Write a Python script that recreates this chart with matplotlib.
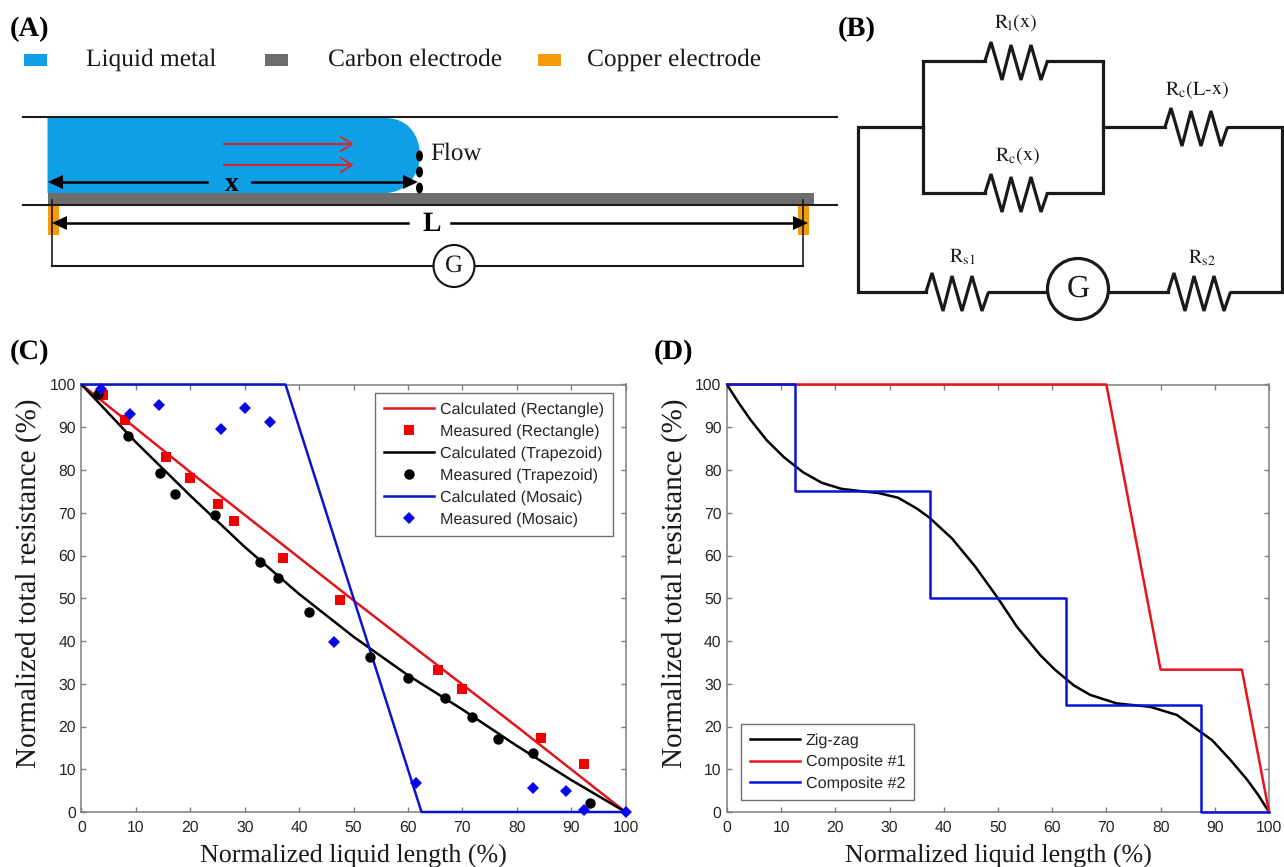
import numpy as np
import matplotlib
matplotlib.use('Agg')
import matplotlib.pyplot as plt
from matplotlib.patches import Rectangle, Circle, Ellipse, PathPatch
from matplotlib.path import Path

plt.rcParams['mathtext.fontset'] = 'stix'
plt.rcParams['text.hinting'] = 'no_hinting'
SERIF = 'Liberation Serif'
SANS = 'Liberation Sans'

# ---- Panel C data
calc_rect_x = [0, 20, 50, 80, 100]
calc_rect_y = [100, 79.5, 49.5, 20, 0]
meas_rect_x = [4, 8, 15.5, 20, 25, 28, 37, 47.5, 65.5, 70, 84.5, 92.3]
meas_rect_y = [97.5, 91.7, 83, 78.2, 72, 68, 59.3, 49.5, 33.3, 28.8, 17.3, 11.2]
calc_trap_x = [0, 10, 20, 30, 40, 50, 60, 70, 80, 90, 100]
calc_trap_y = [100, 86.5, 74, 62, 51, 41, 32, 24, 15.5, 7.5, 0]
meas_trap_x = [3, 8.5, 14.5, 17.2, 24.5, 32.8, 36.2, 41.8, 53, 60, 66.8, 71.8, 76.5, 83, 93.5]
meas_trap_y = [97.8, 88, 79.2, 74.5, 69.5, 58.5, 54.8, 46.8, 36.2, 31.3, 26.7, 22.2, 17, 13.7, 2.2]
calc_mos_x = [0, 37.5, 62.5, 100]
calc_mos_y = [100, 100, 0, 0]
meas_mos_x = [3.5, 8.9, 14.3, 25.6, 30, 34.7, 46.5, 61.5, 83, 89, 92.3, 100]
meas_mos_y = [99, 93, 95.2, 89.7, 94.4, 91.2, 39.7, 6.7, 5.7, 5, 0.5, 0]

# ---- Panel D data
zig_x = [0, 2, 4.3, 7.3, 10.5, 14, 17.5, 21.1, 25, 28, 31.6, 35, 37.3, 41.5, 45.8, 50, 53.5, 57.8,
         60.5, 64, 67, 71.9, 75, 78.1, 83, 87.3, 89.5, 93, 96, 98, 100]
zig_y = [100, 96, 91.8, 87, 83, 79.5, 77, 75.6, 75, 74.6, 73.5, 71, 68.9, 64, 57.4, 50, 43.3, 36.7,
         33.3, 29.6, 27.4, 25.4, 25, 24.6, 22.7, 18.8, 16.8, 12, 7.5, 4, 0]
comp1_x = [0, 70, 80, 95, 100]
comp1_y = [100, 100, 33.3, 33.3, 0]
comp2_x = [0, 12.5, 12.5, 37.5, 37.5, 62.5, 62.5, 87.5, 87.5, 100]
comp2_y = [100, 100, 75, 75, 50, 50, 25, 25, 0, 0]

ticks = list(range(0, 101, 10))
xlabel_text = 'Normalized liquid length (%)'
ylabel_text = 'Normalized total resistance (%)'

W, H = 1284, 867
fig = plt.figure(figsize=(W / 100, H / 100), dpi=100, facecolor='white')

# Pixel-space overlay for schematic panels
ov = fig.add_axes([0, 0, 1, 1], zorder=0)
ov.set_xlim(0, W)
ov.set_ylim(H, 0)
ov.axis('off')


def line(xs, ys, c='#1a1a1a', lw=1.5, **k):
    ov.plot(xs, ys, color=c, lw=lw, solid_capstyle='projecting', solid_joinstyle='miter', **k)


def label(x, y, s, size=17, **k):
    k.setdefault('ha', 'left')
    k.setdefault('va', 'center')
    ov.text(x, y, s, family=SERIF, fontsize=size, color=k.pop('color', '#1a1a1a'), **k)


def arrow_head(x, y, direction, c='black', size=15, half=7):
    ov.fill([x, x - direction * size, x - direction * size], [y, y - half, y + half], color=c, lw=0, zorder=5)


# Panel letters
for x, y, s in [(10, 29, '(A)'), (838, 29, '(B)'), (10, 352, '(C)'), (654, 352, '(D)')]:
    label(x, y, s, size=20.5, fontweight='bold', color='black')

# ---- Panel A
for x, c in [(24, '#0f9fe6'), (265, '#6d6d6d'), (538, '#f79a0c')]:
    ov.add_patch(Rectangle((x, 54), 23, 12, fc=c, ec='none'))
for x, s in [(86, 'Liquid metal'), (328, 'Carbon electrode'), (587, 'Copper electrode')]:
    label(x, 60, s, size=18.3)

verts = [(47.5, 118), (385, 118), (408, 118), (420, 135), (420, 156), (420, 172), (408, 193), (385, 193), (47.5, 193), (47.5, 118)]
codes = [Path.MOVETO, Path.LINETO, Path.CURVE4, Path.CURVE4, Path.CURVE4, Path.CURVE4, Path.CURVE4, Path.CURVE4, Path.LINETO, Path.CLOSEPOLY]
ov.add_patch(PathPatch(Path(verts, codes), fc='#0f9fe6', ec='none'))
ov.add_patch(Rectangle((47.5, 193), 766, 12, fc='#6d6d6d', ec='none'))
ov.add_patch(Rectangle((47.5, 206), 11, 29, fc='#f79a0c', ec='none'))
ov.add_patch(Rectangle((797.5, 206), 11, 29, fc='#f79a0c', ec='none'))
line([23, 837], [117, 117])
line([23, 837], [205, 205])

for y in (144, 165):
    line([224, 351], [y, y], c='#d8262c')
    ov.plot([341, 352, 341], [y - 7, y, y + 7], color='#d8262c', lw=1.3)
for y in (156, 172, 188):
    ov.add_patch(Ellipse((419.5, y), 7, 11, fc='black', ec='none', zorder=6))
label(430, 154, 'Flow', size=18)

line([62, 207], [182, 182], c='black', lw=1.8)
line([252, 405], [182, 182], c='black', lw=1.8)
arrow_head(48, 182, -1)
arrow_head(418, 182, 1)
label(232, 184, 'x', size=20, ha='center', fontweight='bold', color='black')

line([66, 408], [223, 223], c='black', lw=1.8)
line([451, 795], [223, 223], c='black', lw=1.8)
arrow_head(52, 223, -1)
arrow_head(808, 223, 1)
label(432, 224, 'L', size=20, ha='center', fontweight='bold', color='black')

line([52, 52], [200, 266], lw=1.2)
line([802.5, 802.5], [200, 266], lw=1.2)
line([52, 433], [266, 266], lw=1.5)
line([475, 802.5], [266, 266], lw=1.5)
ov.add_patch(Ellipse((454, 266), 41, 42, fc='white', ec='#111111', lw=1.5, zorder=4))
label(454, 266, 'G', size=18, ha='center', zorder=6)

# ---- Panel B
LW = 2.3
def wire(xs, ys):
    line(xs, ys, c='#1a1a1a', lw=LW)


def resistor(x0, y):
    ox = np.array([0, 6, 17, 26, 36, 46, 56, 62.5])
    oy = np.array([0, -19, 19, -16, 19, -16, 19, 0])
    ov.plot(x0 + ox, y + oy, color='#1a1a1a', lw=LW, solid_joinstyle='miter', solid_capstyle='butt')


wire([985, 923, 923, 985], [61, 61, 193, 193])
wire([1047, 1103, 1103, 1047], [61, 61, 193, 193])
wire([923, 858, 858, 926], [127, 127, 292, 292])
wire([1103, 1165], [127, 127])
wire([1228, 1282, 1282, 1231], [127, 127, 292, 292])
wire([989, 1047], [292, 292])
wire([1109, 1168], [292, 292])
resistor(985, 61)
resistor(985, 193)
resistor(1165, 127)
resistor(926, 292)
resistor(1168, 292)
ov.add_patch(Circle((1078, 289), 30.5, fc='white', ec='#1a1a1a', lw=2.3, zorder=4))
label(1078, 289, 'G', size=23, ha='center', zorder=6)
for x, y, s in [(1016, 23, r'$\mathrm{R_{l}(x)}$'), (1018, 156, r'$\mathrm{R_{c}(x)}$'),
                (1197, 90, r'$\mathrm{R_{c}(L\text{-}x)}$'), (962, 257, r'$\mathrm{R_{s1}}$'),
                (1202, 258, r'$\mathrm{R_{s2}}$')]:
    label(x, y, s, size=14.5, ha='center')


# ---- Axes C and D
def style(ax):
    ax.set_xlim(0, 100)
    ax.set_ylim(0, 100)
    ax.set_xticks(ticks)
    ax.set_yticks(ticks)
    ax.tick_params(direction='in', top=True, right=True, length=3.3, width=1, color='#7f7f7f',
                   labelsize=11.3, labelcolor='#262626')
    ax.tick_params(axis='x', pad=6)
    ax.tick_params(axis='y', pad=4)
    for lab in ax.get_xticklabels() + ax.get_yticklabels():
        lab.set_family(SANS)
    for sp in ax.spines.values():
        sp.set_color('#7f7f7f')
        sp.set_linewidth(1.1)
    ax.set_xlabel(xlabel_text, family=SERIF, fontsize=18.7, color='#1a1a1a', labelpad=6)
    ax.set_ylabel(ylabel_text, family=SERIF, fontsize=21, color='#1a1a1a')
    ax.yaxis.set_label_coords(-0.072, 0.535)
    ax.patch.set_alpha(0)


def box(l, r, t, b):
    return [l / W, 1 - b / H, (r - l) / W, (b - t) / H]


ax_c = fig.add_axes(box(81.5, 625.5, 384.5, 812), zorder=2)
style(ax_c)
kw = dict(clip_on=False, linestyle='none')
ax_c.plot(calc_rect_x, calc_rect_y, color='#e0141c', lw=1.8, label='Calculated (Rectangle)', zorder=3)
ax_c.plot(meas_rect_x, meas_rect_y, color='#f00000', marker='s', ms=7.5, mew=0, label='Measured (Rectangle)', zorder=4, **kw)
ax_c.plot(calc_trap_x, calc_trap_y, color='black', lw=1.8, label='Calculated (Trapezoid)', zorder=3)
ax_c.plot(meas_trap_x, meas_trap_y, color='black', marker='o', ms=7.5, mew=0, label='Measured (Trapezoid)', zorder=4, **kw)
ax_c.plot(calc_mos_x, calc_mos_y, color='#0a14c8', lw=1.8, label='Calculated (Mosaic)', zorder=3, clip_on=False)
ax_c.plot(meas_mos_x, meas_mos_y, color='#0808e8', marker='D', ms=6.3, mew=0, label='Measured (Mosaic)', zorder=5, **kw)

ax_d = fig.add_axes(box(727, 1269, 384.5, 812), zorder=2)
style(ax_d)
ax_d.plot(zig_x, zig_y, color='black', lw=1.8, label='Zig-zag', zorder=3)
ax_d.plot(comp1_x, comp1_y, color='#e8141c', lw=1.8, label='Composite #1', clip_on=False, zorder=4)
ax_d.plot(comp2_x, comp2_y, color='#0a14d8', lw=1.8, label='Composite #2', clip_on=False, zorder=5)

for ax, anchor, spacing in [(ax_c, (612.7, 393), 0.44), (ax_d, (914, 724), 0.42)]:
    leg = ax.legend(loc='upper right', bbox_to_anchor=(anchor[0] / W, 1 - anchor[1] / H),
                    bbox_transform=fig.transFigure, labelspacing=spacing,
                    handlelength=3.1, handletextpad=0.35, borderpad=0.55, borderaxespad=0,
                    fancybox=False, framealpha=1, edgecolor='#707070', labelcolor='#262626',
                    prop={'family': SANS, 'size': 11.6})
    leg.get_frame().set_linewidth(1.0)

fig.savefig('out.png', dpi=100, facecolor='white')
